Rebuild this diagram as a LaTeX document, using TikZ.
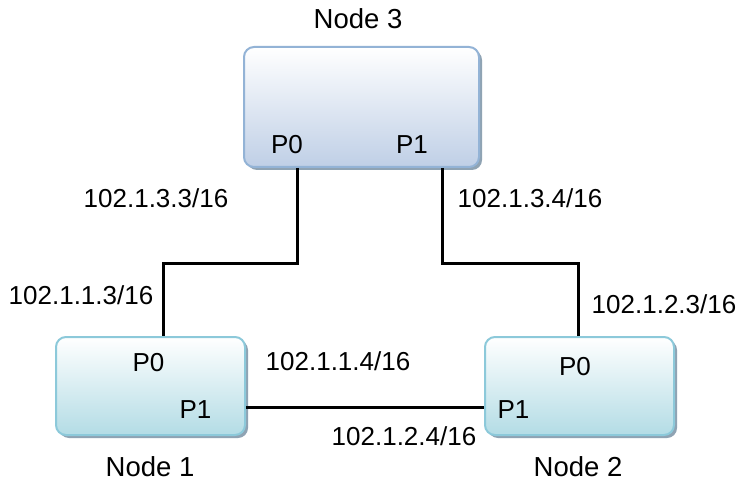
\documentclass[tikz,border=0pt]{standalone}
\usepackage{fontspec}
\setmainfont{Liberation Sans}
\usetikzlibrary{shadows}
\definecolor{topfill}{HTML}{BFCFE6}
\definecolor{topborder}{HTML}{93B3D6}
\definecolor{botfill}{HTML}{B3DCE5}
\definecolor{botborder}{HTML}{8CC9DA}
\definecolor{shadowc}{HTML}{8FA3B3}
\begin{document}
\begin{tikzpicture}[x=1pt,y=-1pt,
  every node/.style={font=\fontsize{26}{30}\selectfont},
  lbl/.style={anchor=base, inner sep=0pt},
  ttl/.style={lbl, font=\fontsize{27.5}{32}\selectfont},
  box/.style={draw, line width=2pt, rounded corners=10pt, inner sep=0pt,
    drop shadow={shadow xshift=3pt, shadow yshift=-3pt, fill=shadowc, opacity=1}},
  topbox/.style={box, draw=topborder, top color=white, bottom color=topfill,
    minimum width=235pt, minimum height=120pt},
  lowbox/.style={box, draw=botborder, top color=white, bottom color=botfill,
    minimum width=189pt, minimum height=98pt},
  link/.style={line width=3pt, black}]
\useasboundingbox (0,0) rectangle (738,481);
\fill[white] (0,0) rectangle (738,481);

\node[topbox] (n3) at (361.5,107) {};
\node[lowbox] (n1) at (150.5,386) {};
\node[lowbox] (n2) at (579.5,386) {};

% links
\coordinate (a1) at (297,263);
\coordinate (a2) at (163,263);
\coordinate (b1) at (442,263);
\coordinate (b2) at (578,263);
\coordinate (c1) at (0,407);
\draw[link] (n3.south -| a1) -- (a1) -- (a2) -- (n1.north -| a2);
\draw[link] (n3.south -| b1) -- (b1) -- (b2) -- (n2.north -| b2);
\draw[link] (n1.east |- c1) -- (n2.west |- c1);

% titles
\node[ttl] (t3) at (358,29) {Node 3};
\node[ttl] (t1) at (150,476) {Node 1};
\node[ttl] (t2) at (578,476) {Node 2};

% ports
\node[lbl] (p30) at (287,154) {P0};
\node[lbl] (p31) at (412,154) {P1};
\node[lbl] (p10) at (148.5,371) {P0};
\node[lbl] (p11) at (195.5,418) {P1};
\node[lbl] (p20) at (575,375) {P0};
\node[lbl] (p21) at (513.5,418) {P1};

% addresses
\node[lbl] (i1) at (156,207) {102.1.3.3/16};
\node[lbl] (i2) at (530,207) {102.1.3.4/16};
\node[lbl] (i3) at (81,304) {102.1.1.3/16};
\node[lbl] (i4) at (664,313) {102.1.2.3/16};
\node[lbl] (i5) at (338,370) {102.1.1.4/16};
\node[lbl] (i6) at (404,445) {102.1.2.4/16};
\end{tikzpicture}
\end{document}
